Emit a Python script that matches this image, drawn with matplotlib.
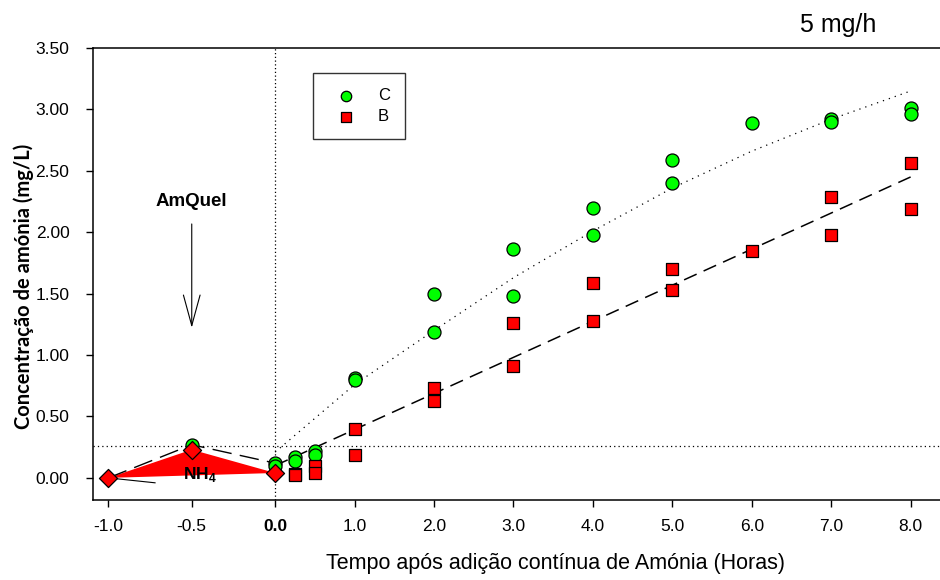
import numpy as np
import matplotlib
matplotlib.use("Agg")
import matplotlib.pyplot as plt
from matplotlib.ticker import FixedLocator, FixedFormatter

plt.rcParams["font.family"] = ["Liberation Sans", "DejaVu Sans"]
plt.rcParams["mathtext.fontset"] = "custom"
plt.rcParams["mathtext.bf"] = "Liberation Sans:bold"
plt.rcParams["mathtext.rm"] = "Liberation Sans"

# group C (green circles)
c_x = [-0.5, 0, 0, 0.25, 0.25, 0.5, 0.5, 1, 1, 2, 2, 3, 3, 4, 4, 5, 5, 6, 7, 7, 8, 8]
c_y = [0.27, 0.12, 0.10, 0.17, 0.14, 0.22, 0.19, 0.81, 0.80, 1.50, 1.19, 1.86, 1.48,
       2.20, 1.98, 2.59, 2.40, 2.89, 2.92, 2.90, 3.01, 2.96]

# group B (red squares)
b_x = [0.25, 0.25, 0.5, 0.5, 1, 1, 2, 2, 3, 3, 4, 4, 5, 5, 6, 7, 7, 8, 8]
b_y = [0.03, 0.02, 0.10, 0.04, 0.40, 0.19, 0.73, 0.63, 1.26, 0.91, 1.59, 1.28,
       1.70, 1.53, 1.85, 2.29, 1.98, 2.56, 2.19]

# NH4 before continuous dosing (red diamonds + filled area)
nh4_x = [-1.0, -0.5, 0.0]
nh4_y = [0.0, 0.23, 0.04]
pre_x = [-1.0, -0.5, 0.0]
pre_y = [0.0, 0.27, 0.12]

# fitted trends
c_fit_x = [0, 1, 2, 3, 4, 5, 6, 7, 8]
c_fit_y = [0.21, 0.76, 1.20, 1.63, 2.01, 2.36, 2.66, 2.92, 3.15]
b_fit_x = [0, 8]
b_fit_y = [0.10, 2.45]

threshold = 0.26
x_ticks = [-1.0, -0.5, 0.0, 1.0, 2.0, 3.0, 4.0, 5.0, 6.0, 7.0, 8.0]
y_ticks = [0.0, 0.5, 1.0, 1.5, 2.0, 2.5, 3.0, 3.5]

NEG_STRETCH = 2.1


def fwd(x):
    x = np.asarray(x, dtype=float)
    return np.where(x < 0, x * NEG_STRETCH, x)


def inv(x):
    x = np.asarray(x, dtype=float)
    return np.where(x < 0, x / NEG_STRETCH, x)


fig = plt.figure(figsize=(9.4, 5.8), dpi=100)
ax = fig.add_axes([93 / 940, 1 - 500 / 580, 1 - 93 / 940, (500 - 48) / 580])
ax.set_xscale("function", functions=(fwd, inv))
ax.set_xlim(-1.092, 8.37)
ax.set_ylim(-0.18, 3.5)

ax.axvline(0, color="black", lw=0.9, ls=(0, (1, 2)), zorder=1)
ax.axhline(threshold, color="black", lw=0.9, ls=(0, (1, 2.5)), zorder=1)

ax.plot(c_fit_x, c_fit_y, color="black", lw=0.9, ls=(0, (1, 4)), zorder=2)
ax.plot(b_fit_x, b_fit_y, color="black", lw=1.1, ls=(0, (9, 5)), zorder=2)

ax.fill(nh4_x, nh4_y, color="#ff0000", lw=0, zorder=2)
ax.plot(pre_x, pre_y, color="black", lw=1.0, ls=(0, (14, 6)), zorder=2)
ax.plot([-1.0, -0.72], [0.0, -0.04], color="black", lw=0.8, zorder=2)

ax.scatter(c_x, c_y, s=88, marker="o", facecolor="#00ff00", edgecolor="black",
           linewidth=0.9, zorder=4, label="C")
ax.scatter(b_x, b_y, s=80, marker="s", facecolor="#ff0000", edgecolor="black",
           linewidth=0.9, zorder=4, label="B")
ax.scatter(nh4_x, nh4_y, s=85, marker="D", facecolor="#ff0000", edgecolor="black",
           linewidth=0.9, zorder=5)

ax.text(-0.5, 2.25, "AmQuel", fontsize=13.5, fontweight="bold", ha="center", va="center")
ax.annotate("", xy=(-0.5, 1.20), xytext=(-0.5, 2.09),
            arrowprops=dict(arrowstyle="->,head_length=2.2,head_width=0.6",
                            lw=0.8, color="black", mutation_scale=10))
ax.text(-0.555, 0.03, r"$\mathbf{NH}_\mathbf{4}$", fontsize=12.5, ha="left", va="center",
        zorder=6)

ax.xaxis.set_major_locator(FixedLocator(x_ticks))
ax.xaxis.set_major_formatter(FixedFormatter([f"{v:.1f}" for v in x_ticks]))
ax.xaxis.set_minor_locator(FixedLocator([]))
ax.yaxis.set_major_locator(FixedLocator(y_ticks))
ax.yaxis.set_major_formatter(FixedFormatter([f"{v:.2f}" for v in y_ticks]))
ax.tick_params(axis="both", direction="out", length=5, width=1, labelsize=12.5)
ax.tick_params(axis="y", pad=12)
ax.tick_params(axis="x", pad=9)
for lab in ax.get_xticklabels():
    if lab.get_text() == "0.0":
        lab.set_fontweight("bold")

for side in ("left", "bottom", "top"):
    ax.spines[side].set_linewidth(1.1)
ax.spines["right"].set_visible(False)

leg = ax.legend(loc="upper left", bbox_to_anchor=(0.25, 0.963), fontsize=12,
                frameon=True, fancybox=False, edgecolor="black", borderpad=0.9,
                handlelength=2.2, handletextpad=0.8, labelspacing=0.35,
                markerscale=0.8, scatterpoints=1)
leg.get_frame().set_linewidth(1.0)

fig.text(24 / 940, 1 - 286 / 580, "Concentração de amónia (mg/L)", rotation=90,
         ha="center", va="center", fontsize=14.5, fontweight="bold", family="Lato")
fig.text(555 / 940, 1 - 563 / 580, "Tempo após adição contínua de Amónia (Horas)",
         ha="center", va="center", fontsize=15.5)
fig.text(838 / 940, 1 - 25 / 580, "5 mg/h", ha="center", va="center", fontsize=18)

fig.savefig("out.png", dpi=100, facecolor="white")
